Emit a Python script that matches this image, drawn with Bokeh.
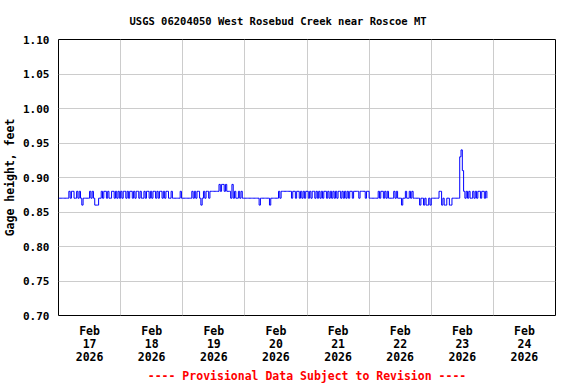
from bokeh.plotting import figure
from bokeh.models import FixedTicker, NumeralTickFormatter, Range1d
from bokeh.embed import file_html
from bokeh.resources import INLINE

# Gage height in hundredths of a foot, 30-minute steps, one list per day
feb17 = [87,87,87,87,87,87,87,87, 88,87,88,88,87,87,88,87, 88,87,86,87,87,87,87,87,
         88,87,88,87,86,86,86,87, 87,88,87,88,88,87,88,87, 87,88,88,87,88,87,88,87]
feb18 = [88,87,88,88,87,88,87,88, 88,87,88,87,88,88,87,88, 87,87,88,87,88,88,87,88,
         87,88,88,87,88,87,88,88, 87,88,87,88,88,87,87,88, 87,87,87,87,87,87,88,87]
feb19 = [87,87,87,87,87,87,87, 88,87,88,87,88,88,87, 86,87, 88,87,88,88,87,88,
         88,88,88,88,88,88, 89,88,89,89,88,89,88, 88,88,87, 89,
         87,88,87,87,88,87,88,87,87]
feb20 = [87,87,87,87,87,87,87,87,87,87,87, 86, 87,87,87,87,87,87,87, 86,
         87,87,87,87,87,87, 88,87,88, 88,88,88,88,88,88,88,
         87,88,88,87,88,88,87,88,87,88,87,88]
feb21 = [88,87,88,87,88,88,87,88, 87,88,87,88,87,88,88,87, 88,87,88,87,88,87,88,87,
         88,88,87,88,87,88,87,88, 87,88,88,87,88,88,88,88, 87,88,88,88,88,87,88,88]
feb22 = [87,87,87,87,87,87,87, 88,87,88,88,87,88,87,88, 87,87,87,87, 88,87,88,87,
         87,87,86,87,87, 88,87,87,88,87,88,87, 87,87,87,87, 86,
         87,87,86,87,86,86,87,86]
feb23 = [87,87,87,87,87,87, 88,88, 86,87,86,86, 87,87, 86,86, 87,87,87,87,87,87,
         93,94,91,
         88,87,88,87,88,87,87,88,87,88,87,88,88,87,88,88,87,88,87]
days = [feb17, feb18, feb19, feb20, feb21, feb22, feb23]

tick_days = [0.5, 1.5, 2.5, 3.5, 4.5, 5.5, 6.5, 7.5]
tick_labels = ["Feb\n17\n2026", "Feb\n18\n2026", "Feb\n19\n2026", "Feb\n20\n2026",
               "Feb\n21\n2026", "Feb\n22\n2026", "Feb\n23\n2026", "Feb\n24\n2026"]
y_ticks = [0.70, 0.75, 0.80, 0.85, 0.90, 0.95, 1.00, 1.05, 1.10]

xs, ys = [], []
for d, vals in enumerate(days):
    for i, v in enumerate(vals):
        xs.append(d + i / 48)
        ys.append(v / 100)

FONT = "DejaVu Sans Mono"

p = figure(frame_width=497, frame_height=276, output_backend="svg", toolbar_location=None,
           x_range=Range1d(0, 8), y_range=Range1d(0.70, 1.10),
           min_border_left=50, min_border_right=13, min_border_top=32, min_border_bottom=64,
           title="USGS 06204050 West Rosebud Creek near Roscoe MT")

p.step(xs, ys, mode="after", line_color="#0000ff", line_width=1)

p.title.text_font = FONT
p.title.text_font_style = "bold"
p.title.text_font_size = "10.5px"
p.title.text_color = "black"
p.title.align = "left"
p.title.offset = 71
p.title.standoff = 25

p.outline_line_color = "black"
p.outline_line_width = 1
p.background_fill_color = "white"
p.border_fill_color = "white"

p.xaxis.ticker = FixedTicker(ticks=tick_days)
p.xaxis.major_label_overrides = {t: l for t, l in zip(tick_days, tick_labels)}
p.yaxis.ticker = FixedTicker(ticks=y_ticks)
p.yaxis.formatter = NumeralTickFormatter(format="0.00")

for ax in (p.xaxis, p.yaxis):
    ax.axis_line_color = None
    ax.major_tick_line_color = None
    ax.minor_tick_line_color = None
    ax.major_tick_out = 0
    ax.major_tick_in = 0
    ax.minor_tick_out = 0
    ax.major_label_text_font = FONT
    ax.major_label_text_font_style = "bold"
    ax.major_label_text_font_size = "11px"
    ax.major_label_text_color = "black"
    ax.axis_label_text_font = FONT
    ax.axis_label_text_font_style = "bold"
    ax.axis_label_text_font_size = "11.5px"

p.xaxis.major_label_text_font_size = "11.5px"
p.xaxis.major_label_text_line_height = 0.95
p.xaxis.major_label_standoff = 8
p.yaxis.major_label_standoff = 9
p.yaxis.axis_label = "Gage height, feet"
p.yaxis.axis_label_standoff = 3
p.yaxis.axis_label_text_color = "black"
p.xaxis.axis_label = "---- Provisional Data Subject to Revision ----"
p.xaxis.axis_label_text_color = "#ff0000"
p.xaxis.axis_label_standoff = 2

p.xgrid.ticker = FixedTicker(ticks=[1, 2, 3, 4, 5, 6, 7])
p.xgrid.grid_line_color = "#cccccc"
p.ygrid.grid_line_color = "#cccccc"

open("out.html", "w").write(file_html(p, INLINE))
